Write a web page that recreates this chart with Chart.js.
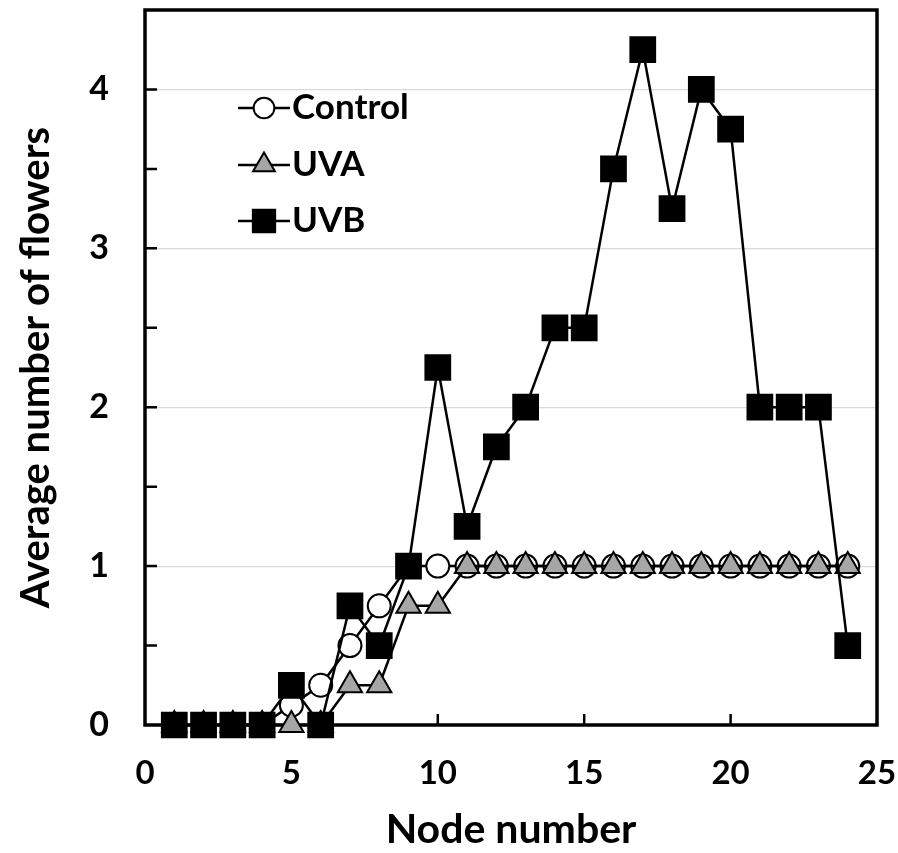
<!DOCTYPE html>
<html>
<head>
<meta charset="utf-8">
<script src="https://cdn.jsdelivr.net/npm/chart.js@4.4.1/dist/chart.umd.min.js"></script>
<style>
  html, body { margin: 0; padding: 0; background: #fff; }
  #wrap { width: 898px; height: 853px; }
</style>
</head>
<body>
<div id="wrap"><canvas id="c" width="898" height="853"></canvas></div>
<script>
const nodes   = [1,2,3,4,5,6,7,8,9,10,11,12,13,14,15,16,17,18,19,20,21,22,23,24];
const control = [0,0,0,0,0.125,0.25,0.5,0.75,1,1,1,1,1,1,1,1,1,1,1,1,1,1,1,1];
const uva     = [0,0,0,0,0,0,0.25,0.25,0.75,0.75,1,1,1,1,1,1,1,1,1,1,1,1,1,1];
const uvb     = [0,0,0,0,0.25,0,0.75,0.5,1,2.25,1.25,1.75,2,2.5,2.5,3.5,4.25,3.25,4,3.75,2,2,2,0.5];
const seriesNames = ['Control','UVA','UVB'];
const xTicks = [0,5,10,15,20,25];
const yTicks = [0,1,2,3,4];

const FONT = 'Lato, "Liberation Sans", sans-serif';

function pts(arr){ return nodes.map((x,i)=>({x:x, y:arr[i]})); }

const styles = {
  Control: {pointStyle:'circle', radius:11.5, bg:'#ffffff'},
  UVA:     {pointStyle:'triangle', radius:14, bg:'#a6a6a6'},
  UVB:     {pointStyle:'rect', radius:17.5, bg:'#000000'}
};

function ds(name, arr){
  const s = styles[name];
  return {
    label: name, data: pts(arr),
    borderColor:'#000', borderWidth:2.5,
    pointStyle:s.pointStyle, pointRadius:s.radius, pointHoverRadius:s.radius,
    pointBackgroundColor:s.bg, pointBorderColor:'#000', pointBorderWidth:2,
    clip:false, tension:0
  };
}

const framePlugin = {
  id:'frame',
  beforeDatasetsDraw(chart){
    const {ctx, chartArea:a, scales:{x,y}} = chart;
    ctx.save();
    ctx.strokeStyle = '#000';
    ctx.lineWidth = 2.5;
    ctx.beginPath();
    for (let v = 0.5; v < 4.5; v += 0.5){
      const py = y.getPixelForValue(v);
      ctx.moveTo(a.left, py); ctx.lineTo(a.left + 12, py);
    }
    for (const v of xTicks){
      if (v === 0 || v === 25) continue;
      const px = x.getPixelForValue(v);
      ctx.moveTo(px, a.bottom); ctx.lineTo(px, a.bottom - 11);
    }
    ctx.stroke();
    ctx.lineWidth = 3.5;
    ctx.strokeRect(a.left, a.top, a.right - a.left, a.bottom - a.top);
    ctx.restore();
  },
  afterDatasetsDraw(chart){
    const {ctx} = chart;
    const H = Chart.helpers;
    const entries = [['Control',108],['UVA',165],['UVB',221]];
    ctx.save();
    for (const [name, ly] of entries){
      const s = styles[name];
      ctx.strokeStyle = '#000'; ctx.lineWidth = 2.5;
      ctx.beginPath(); ctx.moveTo(238, ly); ctx.lineTo(290, ly); ctx.stroke();
      ctx.fillStyle = s.bg; ctx.strokeStyle = '#000'; ctx.lineWidth = 2;
      H.drawPoint(ctx, {pointStyle:s.pointStyle, radius:s.radius*0.9, borderWidth:2}, 264, ly);
      ctx.fillStyle = '#000';
      ctx.font = 'bold 35px ' + FONT;
      ctx.textAlign = 'left'; ctx.textBaseline = 'middle';
      ctx.fillText(name, 292, ly);
    }
    ctx.restore();
  }
};

new Chart(document.getElementById('c'), {
  type:'line',
  data:{ datasets:[ ds('UVB', uvb), ds('UVA', uva), ds('Control', control) ] },
  options:{
    responsive:false, animation:false,
    layout:{ autoPadding:false, padding:{ left:10, right:21, top:10, bottom:6 } },
    plugins:{ legend:{display:false}, tooltip:{enabled:false} },
    scales:{
      x:{
        type:'linear', min:0, max:25,
        afterBuildTicks(scale){ scale.ticks = xTicks.map(v=>({value:v})); },
        afterFit(scale){ scale.height = 853 - 725 - 6; scale.paddingLeft = 0; scale.paddingRight = 0; },
        ticks:{ color:'#000', font:{ family:FONT, size:33, weight:'bold' }, padding:29, maxRotation:0 },
        grid:{ drawOnChartArea:false, drawTicks:false },
        border:{ display:false },
        title:{ display:true, text:'Node number', color:'#000', font:{ family:FONT, size:41, weight:'bold', lineHeight:0.85 }, padding:{top:22, bottom:0} }
      },
      y:{
        type:'linear', min:0, max:4.5,
        afterBuildTicks(scale){ scale.ticks = yTicks.map(v=>({value:v})); },
        afterFit(scale){ scale.width = 145 - 10; scale.paddingTop = 0; scale.paddingBottom = 0; },
        ticks:{ color:'#000', font:{ family:FONT, size:34, weight:'bold' }, padding:36 },
        grid:{ color:(c)=> (c.tick && c.tick.value > 0) ? '#d9d9d9' : 'rgba(0,0,0,0)', lineWidth:1.2, drawTicks:false },
        border:{ display:false },
        title:{ display:true, text:'Average number of flowers', color:'#000', font:{ family:FONT, size:40, weight:'bold' }, padding:{top:2, bottom:0} }
      }
    }
  },
  plugins:[framePlugin]
});
</script>
</body>
</html>
